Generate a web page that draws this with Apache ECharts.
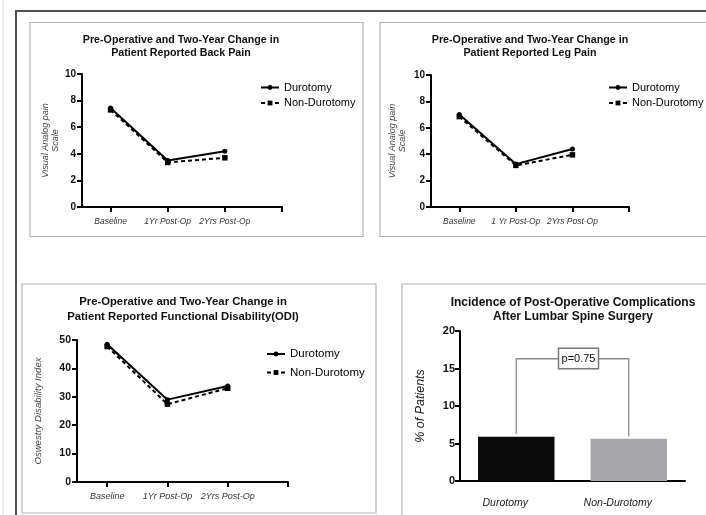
<!DOCTYPE html>
<html><head><meta charset="utf-8">
<script src="https://cdn.jsdelivr.net/npm/echarts@6/dist/echarts.min.js"></script>
<style>html,body{margin:0;padding:0;background:#fff}#c{width:706px;height:515px}</style>
</head><body><div id="c"></div>
<script>
// ---- data ----
const backCats = ['Baseline', '1Yr Post-Op', '2Yrs Post-Op'];
const legCats = ['Baseline', '1 Yr Post-Op', '2Yrs Post-Op'];
const odiCats = ['Baseline', '1Yr Post-Op', '2Yrs Post-Op'];
const backDur = [7.45, 3.5, 4.2];
const backNon = [7.3, 3.35, 3.7];
const legDur = [7.0, 3.25, 4.4];
const legNon = [6.85, 3.15, 3.95];
const odiDur = [48.5, 29.0, 33.8];
const odiNon = [47.7, 27.4, 33.0];
const barCats = ['Durotomy', 'Non-Durotomy'];
const barVals = [5.9, 5.65];
const bracketVals = [6.3, 16.3, 5.95];
const pLabel = 'p=0.75';
const seriesNames = ['Durotomy', 'Non-Durotomy'];

const FONT = '"Liberation Sans", Arial, Helvetica, sans-serif';
const chart = echarts.init(document.getElementById('c'), null, {renderer: 'canvas'});

const grids = [
  {left: 82, top: 74, width: 200, height: 133},
  {left: 431, top: 75, width: 198, height: 132},
  {left: 77, top: 340, width: 211, height: 142},
  {left: 460, top: 331, width: 225, height: 150}
];

function lineX(gi, cats, fs) {
  return {
    type: 'value', gridIndex: gi, min: 0.5, max: 4,
    axisLine: {show: true, lineStyle: {color: '#000', width: 2}},
    axisTick: {show: true, customValues: [1, 2, 3, 4], length: 5, lineStyle: {width: 2, color: '#000'}},
    axisLabel: {customValues: [1, 2, 3], formatter: v => cats[Math.round(v) - 1] || '',
      fontStyle: 'italic', fontSize: fs, color: '#333', margin: 10, fontFamily: FONT},
    splitLine: {show: false}
  };
}
function lineY(gi, max, interval, name, nameGap, nameFs, labelFs) {
  return {
    type: 'value', gridIndex: gi, min: 0, max: max, interval: interval,
    name: name, nameLocation: 'middle', nameGap: nameGap,
    nameTextStyle: {fontStyle: 'italic', fontSize: nameFs, color: '#444', fontFamily: FONT, lineHeight: nameFs + 1.5},
    axisLine: {show: true, lineStyle: {color: '#000', width: 2}},
    axisTick: {show: true, length: 5, lineStyle: {width: 2, color: '#000'}},
    axisLabel: {fontWeight: 'bold', fontSize: labelFs, color: '#111', margin: 6, fontFamily: FONT},
    splitLine: {show: false}
  };
}
function lineSeries(gi, name, vals, dashed) {
  return {
    type: 'line', name: name, xAxisIndex: gi, yAxisIndex: gi,
    data: vals.map((v, i) => [i + 1, v]),
    symbol: dashed ? 'rect' : 'circle', symbolSize: dashed ? 5.5 : 5,
    lineStyle: {color: '#000', width: 2, type: dashed ? [4, 3] : 'solid'},
    itemStyle: {color: '#000'},
    silent: true, animation: false, z: dashed ? 2 : 3
  };
}
function legend(left, top, fs, gap) {
  return {
    orient: 'vertical', left: left, top: top, data: seriesNames,
    itemWidth: 18, itemHeight: 6, itemGap: gap, padding: 0,
    textStyle: {fontSize: fs, color: '#000', fontFamily: FONT},
    selectedMode: false
  };
}

const option = {
  animation: false,
  textStyle: {fontFamily: FONT},
  grid: grids.map(g => Object.assign({containLabel: false}, g)),
  xAxis: [
    lineX(0, backCats, 8.5),
    lineX(1, legCats, 8.5),
    lineX(2, odiCats, 9),
    {
      type: 'category', gridIndex: 3, data: barCats,
      axisLine: {lineStyle: {color: '#000', width: 2}},
      axisTick: {alignWithLabel: true, length: 5, lineStyle: {width: 2, color: '#000'}},
      axisLabel: {fontStyle: 'italic', fontSize: 10.5, color: '#222', margin: 17, fontFamily: FONT,
        padding: [0, 22, 0, 0]}
    }
  ],
  yAxis: [
    lineY(0, 10, 2, 'Visual Analog pain\nScale', 20, 9, 10),
    lineY(1, 10, 2, 'Visual Analog pain\nScale', 23, 9, 10),
    lineY(2, 50, 10, 'Oswestry Disability Index', 33, 9.6, 10.5),
    (function () { const y = lineY(3, 20, 5, '% of Patients', 32, 12.5, 11);
      y.nameTextStyle.color = '#222'; y.axisLabel.margin = 5; return y; })()
  ],
  legend: [
    legend(260, 82, 11, 4.5),
    legend(608, 82, 11, 4.5),
    legend(266, 348, 11.5, 6.5)
  ],
  series: [
    lineSeries(0, 'Durotomy', backDur, false),
    lineSeries(0, 'Non-Durotomy', backNon, true),
    lineSeries(1, 'Durotomy', legDur, false),
    lineSeries(1, 'Non-Durotomy', legNon, true),
    lineSeries(2, 'Durotomy', odiDur, false),
    lineSeries(2, 'Non-Durotomy', odiNon, true),
    {
      type: 'bar', name: 'Incidence', xAxisIndex: 3, yAxisIndex: 3,
      barWidth: '68%',
      data: barVals.map((v, i) => ({value: v, itemStyle: {color: i === 0 ? '#0b0b0b' : '#a7a7aa'}})),
      silent: true
    },
    {
      type: 'line', name: 'bracket', xAxisIndex: 3, yAxisIndex: 3,
      data: [[0, bracketVals[0]], [0, bracketVals[1]], [1, bracketVals[1]], [1, bracketVals[2]]],
      symbol: 'none', lineStyle: {color: '#8a8a8a', width: 1.3}, silent: true, z: 1
    }
  ]
};
chart.setOption(option);

// ---- decorations (frames, titles, p-value box) ----
const pA = chart.convertToPixel({gridIndex: 3}, [0, bracketVals[1]]);
const pB = chart.convertToPixel({gridIndex: 3}, [1, bracketVals[1]]);
const pm = [(pA[0] + pB[0]) / 2 + 6, pA[1]];

function title(x, y, lines, fs, lh) {
  return {
    type: 'text', x: x, y: y, z: 50,
    style: {text: lines.join('\n'), textAlign: 'center', textVerticalAlign: 'top',
      font: 'bold ' + fs + 'px ' + FONT, lineHeight: lh, fill: '#111'}
  };
}
const graphic = [
  {type: 'line', shape: {x1: 3, y1: 0, x2: 3, y2: 515}, style: {stroke: '#d8d8d8', lineWidth: 1}},
  {type: 'polyline', shape: {points: [[16, 515], [16, 11], [706, 11]]}, style: {stroke: '#505050', lineWidth: 2, fill: null}},
  {type: 'rect', shape: {x: 30, y: 22.5, width: 333, height: 214}, style: {stroke: '#b4b4b4', lineWidth: 1.2, fill: null}},
  {type: 'rect', shape: {x: 380, y: 22.5, width: 340, height: 214}, style: {stroke: '#b4b4b4', lineWidth: 1.2, fill: null}},
  {type: 'rect', shape: {x: 22, y: 284, width: 354, height: 229}, style: {stroke: '#b4b4b4', lineWidth: 1.2, fill: null}},
  {type: 'rect', shape: {x: 402, y: 284, width: 320, height: 240}, style: {stroke: '#b4b4b4', lineWidth: 1.2, fill: null}},
  title(181, 33, ['Pre-Operative and Two-Year Change in', 'Patient Reported Back Pain'], 10.7, 13.5),
  title(530, 33, ['Pre-Operative and Two-Year Change in', 'Patient Reported Leg Pain'], 10.7, 13.5),
  title(183, 295, ['Pre-Operative and Two-Year Change in', 'Patient Reported Functional Disability(ODI)'], 11.3, 14.4),
  title(573, 296, ['Incidence of Post-Operative Complications', 'After Lumbar Spine Surgery'], 12, 14),
  {type: 'rect', z: 100, shape: {x: pm[0] - 20, y: pm[1] - 10.5, width: 40, height: 20.5},
    style: {fill: '#fff', stroke: '#777', lineWidth: 1.5}},
  {type: 'text', z: 101, x: pm[0], y: pm[1], style: {text: pLabel, textAlign: 'center', textVerticalAlign: 'middle',
    font: '11px ' + FONT, fill: '#111'}}
];
chart.setOption({graphic: graphic});
</script>
</body></html>
